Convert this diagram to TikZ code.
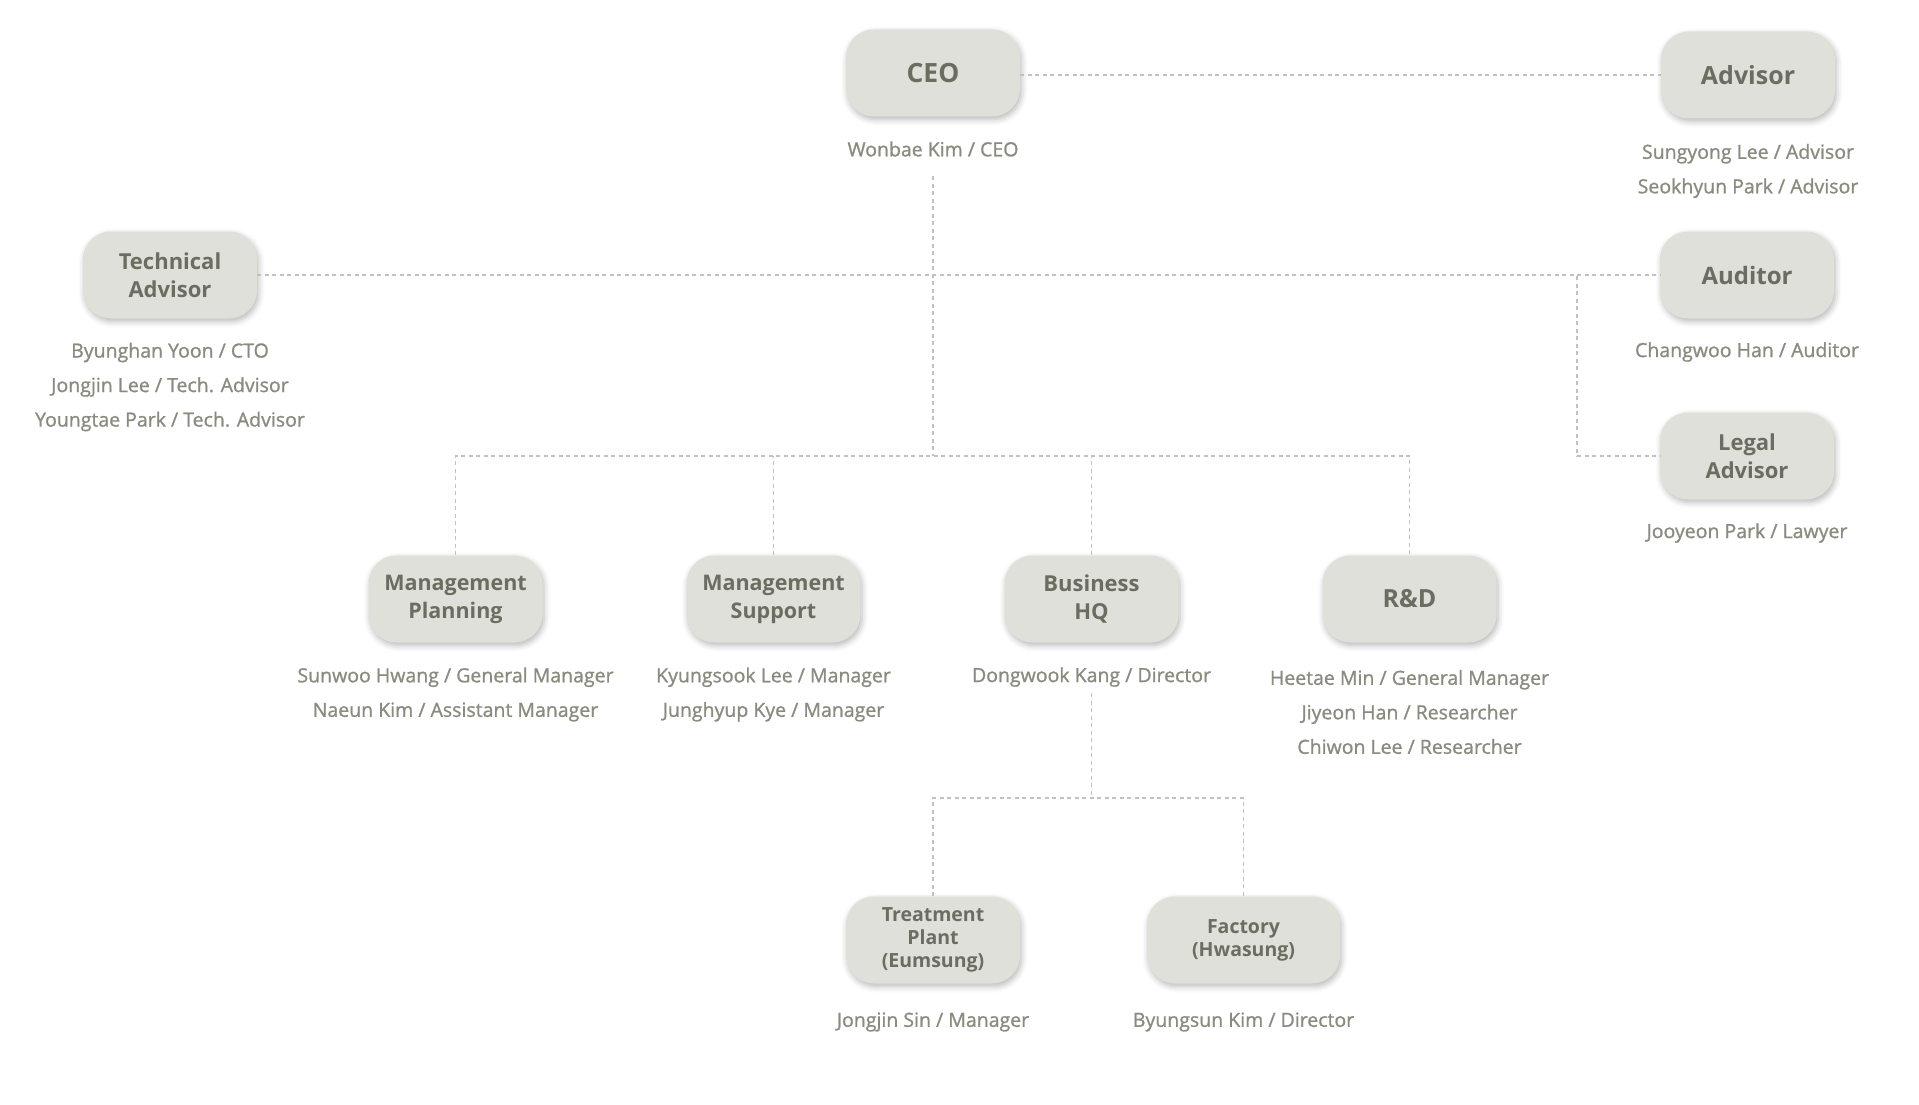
\documentclass[tikz,border=0pt]{standalone}
\usepackage{fontspec}
\setmainfont{Open Sans}
\newfontfamily\namefont{Open Sans}[FakeBold=1.1]
\usetikzlibrary{shadows.blur}
\definecolor{boxfill}{HTML}{DFE0D9}
\definecolor{boxtext}{HTML}{6B6D60}
\definecolor{nametext}{HTML}{8A8B7F}
\definecolor{linecol}{HTML}{C2C2BA}
\tikzset{
  orgbox/.style={rounded corners=28pt, fill=boxfill, text=boxtext, minimum width=174pt,
    minimum height=87pt, align=center, inner sep=0pt,
    blur shadow={shadow xshift=1.5pt, shadow yshift=-3pt, shadow blur radius=6pt, shadow opacity=28}},
  fbig/.style={font=\fontsize{25}{30}\selectfont\bfseries},
  fmid/.style={font=\fontsize{22}{28}\selectfont\bfseries},
  fsmall/.style={font=\fontsize{19.5}{23}\selectfont\bfseries},
  names/.style={text=nametext, font=\namefont\fontsize{19.5}{34.5}\selectfont, align=center, inner sep=0pt},
  conn/.style={draw=linecol, line width=1.2pt, dash pattern=on 4pt off 3.5pt}
}
\begin{document}
\begin{tikzpicture}[x=1pt,y=-1pt]
\useasboundingbox (0,0) rectangle (1919,1105);
% boxes
\node[orgbox,fbig,font=\fontsize{26.5}{30}\selectfont\bfseries] (ceo) at (933,73) {CEO};
\node[orgbox,fbig] (adv) at (1748,75) {Advisor};
\node[orgbox,fmid] (tech) at (170,275) {Technical\\Advisor};
\node[orgbox,fbig,font=\fontsize{24}{30}\selectfont\bfseries] (aud) at (1747,275) {Auditor};
\node[orgbox,fmid] (leg) at (1747,456) {Legal\\Advisor};
\node[orgbox,fmid,font=\fontsize{21.5}{28}\selectfont\bfseries] (mp) at (455.5,599) {Management\\Planning};
\node[orgbox,fmid,font=\fontsize{21.5}{28}\selectfont\bfseries] (ms) at (773.5,599) {Management\\Support};
\node[orgbox,fmid] (hq) at (1091.5,599) {Business\\HQ};
\node[orgbox,fbig] (rd) at (1409.5,599) {R\&D};
\node[orgbox,fsmall] (tp) at (933,940) {Treatment\\Plant\\(Eumsung)};
\node[orgbox,fsmall,minimum width=193pt] (fa) at (1243.5,940) {Factory\\(Hwasung)};
% names
\node[names] (ceot) at (933,149) {Wonbae Kim / CEO};
\node[names] (advt) at (1748,171) {Sungyong Lee / Advisor\\Seokhyun Park / Advisor};
\node[names] (techt) at (170,387) {Byunghan Yoon / CTO\\Jongjin Lee / Tech. Advisor\\Youngtae Park / Tech. Advisor};
\node[names] (audt) at (1747,352) {Changwoo Han / Auditor};
\node[names] (legt) at (1747,533) {Jooyeon Park / Lawyer};
\node[names] (mpt) at (455.5,694.5) {Sunwoo Hwang / General Manager\\Naeun Kim / Assistant Manager};
\node[names] (mst) at (773.5,694.5) {Kyungsook Lee / Manager\\Junghyup Kye / Manager};
\node[names] (hqt) at (1091.5,677) {Dongwook Kang / Director};
\node[names] (rdt) at (1409.5,712) {Heetae Min / General Manager\\Jiyeon Han / Researcher\\Chiwon Lee / Researcher};
\node[names] (tpt) at (933,1022) {Jongjin Sin / Manager};
\node[names] (fat) at (1243.5,1022) {Byungsun Kim / Director};
% junction coordinates
\coordinate (c1) at (933,176);
\coordinate (c2) at (933,456);
\coordinate (ab) at (1577,276);
\coordinate (h1) at (1091.5,693);
\coordinate (h2) at (1091.5,798);
% connectors
\draw[conn] (ceo.east |- adv.west) -- (adv.west);
\draw[conn] (c1) -- (c2);
\draw[conn] (tech.east) -- (aud.west);
\draw[conn] (ab) |- (leg.west);
\draw[conn] (mp.north) -- (mp.north |- c2) -- (rd.north |- c2) -- (rd.north);
\draw[conn] (ms.north) -- (ms.north |- c2);
\draw[conn] (hq.north) -- (hq.north |- c2);
\draw[conn] (h1) -- (h2);
\draw[conn] (tp.north) -- (tp.north |- h2) -- (fa.north |- h2) -- (fa.north);
\end{tikzpicture}
\end{document}
